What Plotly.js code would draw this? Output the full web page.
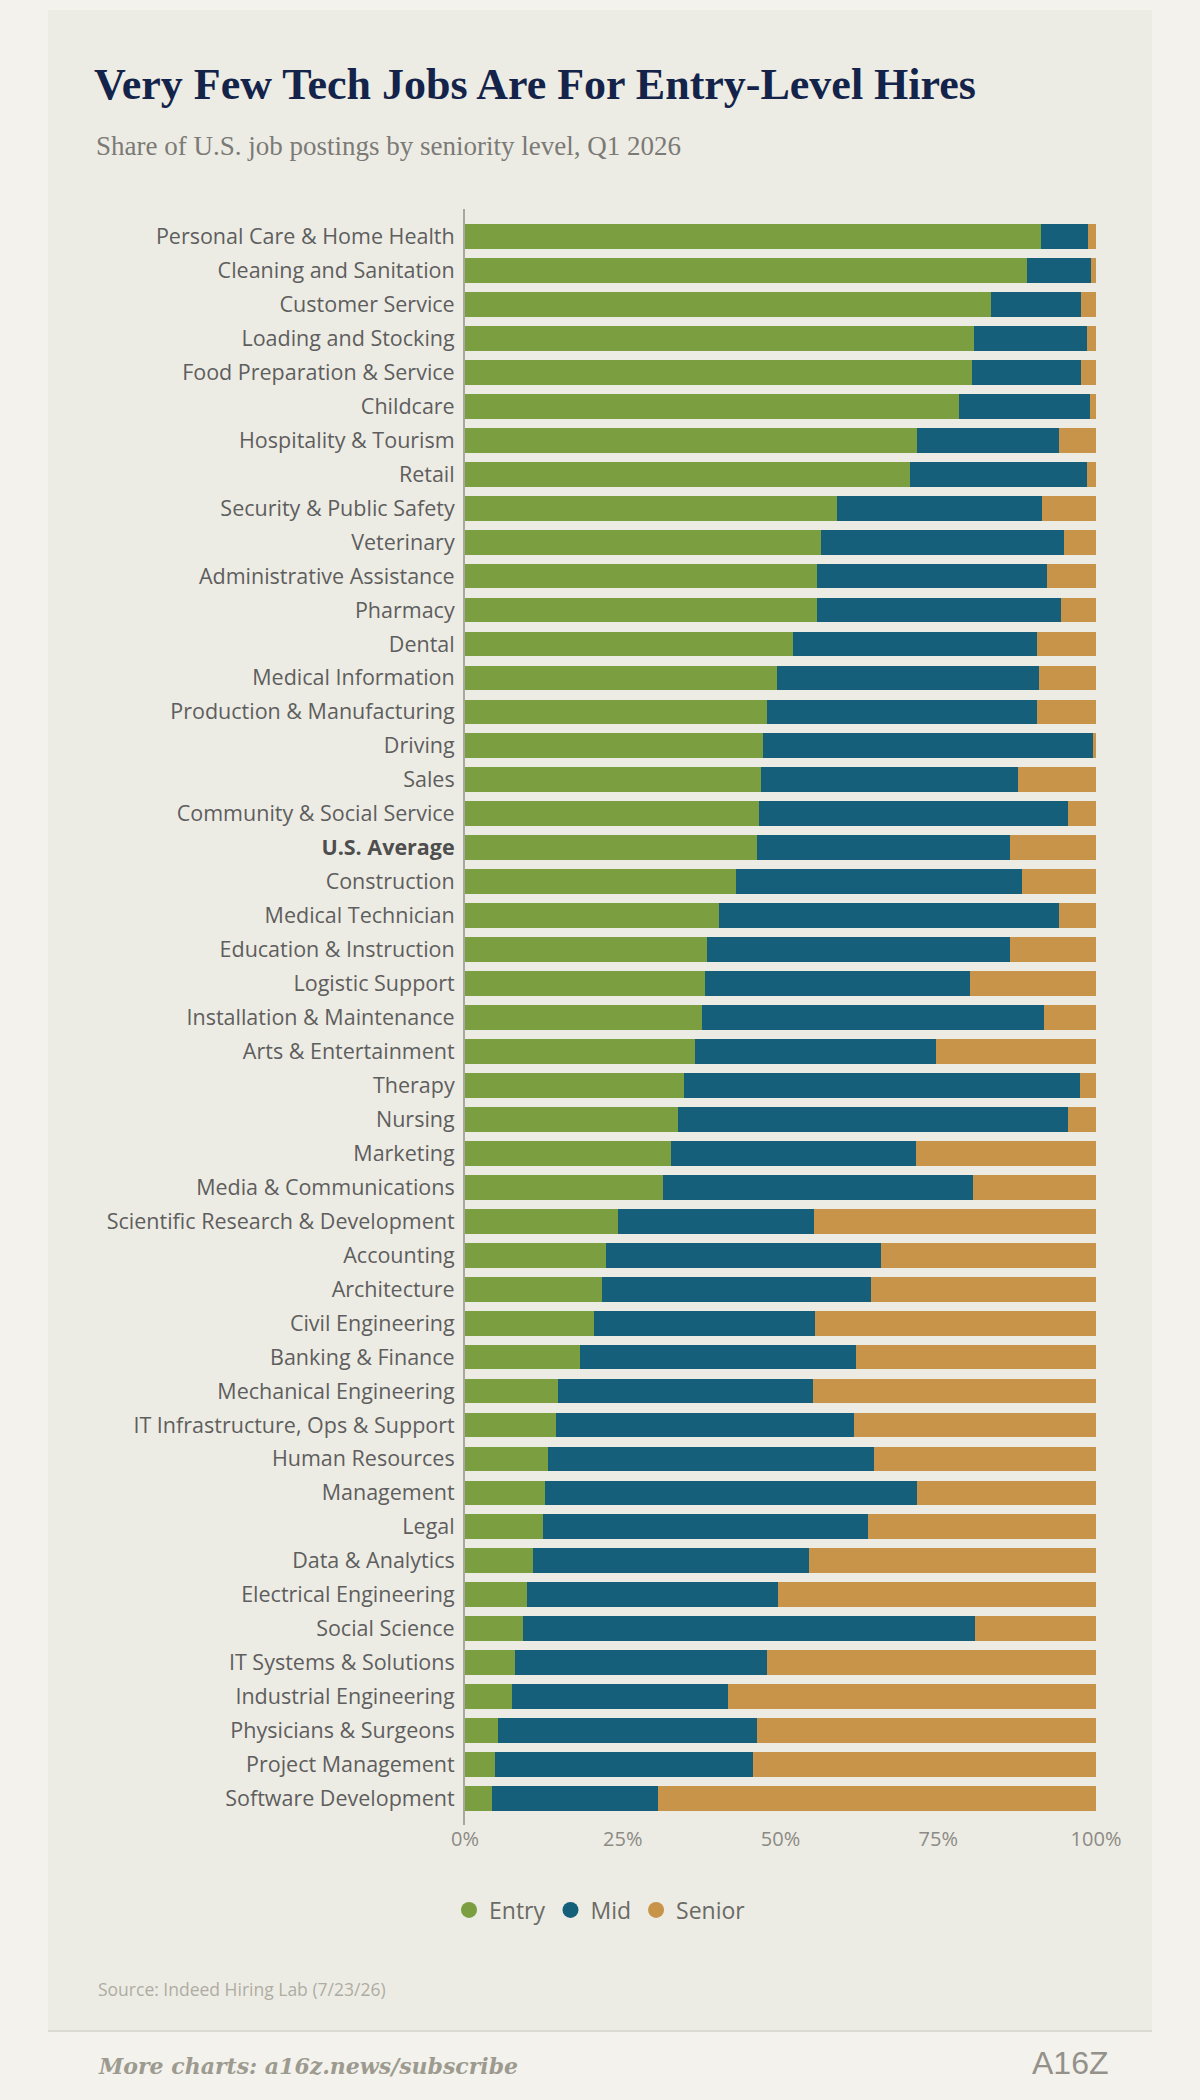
<!DOCTYPE html>
<html>
<head>
<meta charset="utf-8">
<script src="https://cdn.plot.ly/plotly-3.0.1.min.js"></script>
<style>
  html, body { margin: 0; padding: 0; background: #f3f2ec; }
  #chart { width: 1200px; height: 2100px; }
</style>
</head>
<body>
<div id="chart"></div>
<script>
const categories = [
  "Personal Care & Home Health", "Cleaning and Sanitation", "Customer Service",
  "Loading and Stocking", "Food Preparation & Service", "Childcare",
  "Hospitality & Tourism", "Retail", "Security & Public Safety", "Veterinary",
  "Administrative Assistance", "Pharmacy", "Dental", "Medical Information",
  "Production & Manufacturing", "Driving", "Sales", "Community & Social Service",
  "U.S. Average", "Construction", "Medical Technician", "Education & Instruction",
  "Logistic Support", "Installation & Maintenance", "Arts & Entertainment",
  "Therapy", "Nursing", "Marketing", "Media & Communications",
  "Scientific Research & Development", "Accounting", "Architecture",
  "Civil Engineering", "Banking & Finance", "Mechanical Engineering",
  "IT Infrastructure, Ops & Support", "Human Resources", "Management", "Legal",
  "Data & Analytics", "Electrical Engineering", "Social Science",
  "IT Systems & Solutions", "Industrial Engineering", "Physicians & Surgeons",
  "Project Management", "Software Development"
];

const entry = [
  91.3, 89.0, 83.3, 80.6, 80.4, 78.3, 71.7, 70.5, 58.9, 56.4,
  55.8, 55.8, 52.0, 49.5, 47.9, 47.3, 46.9, 46.6, 46.2, 43.0,
  40.3, 38.4, 38.0, 37.6, 36.4, 34.7, 33.7, 32.6, 31.3, 24.3,
  22.4, 21.7, 20.5, 18.3, 14.7, 14.4, 13.2, 12.6, 12.3, 10.7,
  9.8, 9.2, 7.9, 7.5, 5.2, 4.7, 4.3
];

const mid = [
  7.4, 10.2, 14.3, 18.0, 17.3, 20.8, 22.5, 28.1, 32.5, 38.6,
  36.4, 38.7, 38.6, 41.5, 42.8, 52.3, 40.7, 48.9, 40.2, 45.2,
  53.9, 48.0, 42.0, 54.2, 38.3, 62.7, 61.8, 38.8, 49.2, 31.0,
  43.5, 42.6, 35.0, 43.6, 40.4, 47.2, 51.6, 59.1, 51.5, 43.8,
  39.8, 71.6, 39.9, 34.1, 41.0, 41.0, 26.3
];

const senior = [
  1.3, 0.8, 2.4, 1.4, 2.3, 0.9, 5.8, 1.4, 8.6, 5.0,
  7.8, 5.5, 9.4, 9.0, 9.3, 0.4, 12.4, 4.5, 13.6, 11.8,
  5.8, 13.6, 20.0, 8.2, 25.3, 2.6, 4.5, 28.6, 19.5, 44.7,
  34.1, 35.7, 44.5, 38.1, 44.9, 38.4, 35.2, 28.3, 36.2, 45.5,
  50.4, 19.2, 52.2, 58.4, 53.8, 54.3, 69.4
];

const seriesNames = ["Entry", "Mid", "Senior"];
const seriesColors = ["#7a9e40", "#165f7b", "#c8944a"];
const xTickVals = [0, 25, 50, 75, 100];
const xTickText = ["0%", "25%", "50%", "75%", "100%"];
const highlight = "U.S. Average";

const W = 1200, H = 2100;
const M = { l: 465, r: 104, t: 209, b: 275 };
const pw = W - M.l - M.r, ph = H - M.t - M.b;
const px = v => (v - M.l) / pw;           // container px -> paper x
const py = v => (H - M.b - v) / ph;       // container px -> paper y

const seriesValues = [entry, mid, senior];
const traces = seriesValues.map((vals, i) => ({
  type: "bar",
  orientation: "h",
  name: seriesNames[i],
  y: categories,
  x: vals,
  marker: { color: seriesColors[i], line: { width: 0 } },
  showlegend: false,
  hoverinfo: "name+x+y"
}));

// legend entries as round markers
seriesNames.forEach((n, i) => {
  traces.push({
    type: "scatter",
    mode: "markers",
    name: n,
    x: [null], y: [null],
    marker: { color: seriesColors[i], size: 16, symbol: "circle" },
    showlegend: true,
    hoverinfo: "skip"
  });
});

const tickText = categories.map(c => c === highlight
  ? '<b><span style="color:#4e4e4e">' + c + '</span></b>' : c);

const layout = {
  width: W, height: H,
  margin: M,
  paper_bgcolor: "#f3f2ec",
  plot_bgcolor: "#edece4",
  barmode: "stack",
  bargap: 0.27,
  font: { family: "Open Sans, sans-serif", color: "#5e5e5e" },
  title: {
    text: "Very Few Tech Jobs Are For Entry-Level Hires",
    font: { family: "Liberation Serif, serif", size: 44, color: "#13234a", weight: 700 },
    xref: "container", yref: "container",
    x: 94 / W, xanchor: "left",
    y: 1 - 84 / H, yanchor: "middle"
  },
  xaxis: {
    range: [0, 100],
    tickvals: xTickVals,
    ticktext: xTickText,
    showgrid: false, zeroline: false, showline: false,
    ticks: "",
    tickfont: { family: "Open Sans, sans-serif", size: 20, color: "#8b8a84" },
    fixedrange: true
  },
  yaxis: {
    type: "category",
    categoryorder: "array",
    categoryarray: categories,
    range: [categories.length - 1 + 0.78, -0.81],
    tickvals: categories,
    ticktext: tickText,
    ticks: "",
    ticklabelstandoff: 4,
    showgrid: false, zeroline: false,
    showline: true, linecolor: "#a9a79d", linewidth: 2,
    tickfont: { family: "Open Sans, sans-serif", size: 21.5, color: "#5e5e5e" },
    fixedrange: true
  },
  legend: {
    orientation: "h",
    traceorder: "normal",
    xref: "container", yref: "container",
    x: 0.5, xanchor: "center",
    y: 1 - 1910 / H, yanchor: "middle",
    font: { family: "Open Sans, sans-serif", size: 23, color: "#6a6a66" },
    bgcolor: "rgba(0,0,0,0)",
    itemsizing: "trace"
  },
  shapes: [
    { type: "rect", layer: "below", xref: "paper", yref: "paper",
      x0: px(48), x1: px(1152), y0: py(10), y1: py(2030),
      fillcolor: "#edece4", line: { width: 0 } },
    { type: "line", layer: "below", xref: "paper", yref: "paper",
      x0: px(48), x1: px(1152), y0: py(2031), y1: py(2031),
      line: { color: "#dcdbd2", width: 2 } }
  ],
  annotations: [
    { text: "Share of U.S. job postings by seniority level, Q1 2026",
      xref: "paper", yref: "paper", x: px(94), y: py(146),
      xanchor: "left", yanchor: "middle", showarrow: false,
      font: { family: "Liberation Serif, serif", size: 27, color: "#7b7a76" } },
    { text: "Source: Indeed Hiring Lab (7/23/26)",
      xref: "paper", yref: "paper", x: px(96), y: py(1989),
      xanchor: "left", yanchor: "middle", showarrow: false,
      font: { family: "Open Sans, sans-serif", size: 17.5, color: "#aeaca3" } },
    { text: "<i><b>More charts: a16z.news/subscribe</b></i>",
      xref: "paper", yref: "paper", x: px(96), y: py(2066),
      xanchor: "left", yanchor: "middle", showarrow: false,
      font: { family: "DejaVu Serif, serif", size: 22, color: "#9d9b90" } },
    { text: "A16Z",
      xref: "paper", yref: "paper", x: px(1110), y: py(2063),
      xanchor: "right", yanchor: "middle", showarrow: false,
      font: { family: "Liberation Sans, sans-serif", size: 32, color: "#93918a" } }
  ]
};

Plotly.newPlot("chart", traces, layout, { staticPlot: true, displayModeBar: false });
</script>
</body>
</html>
